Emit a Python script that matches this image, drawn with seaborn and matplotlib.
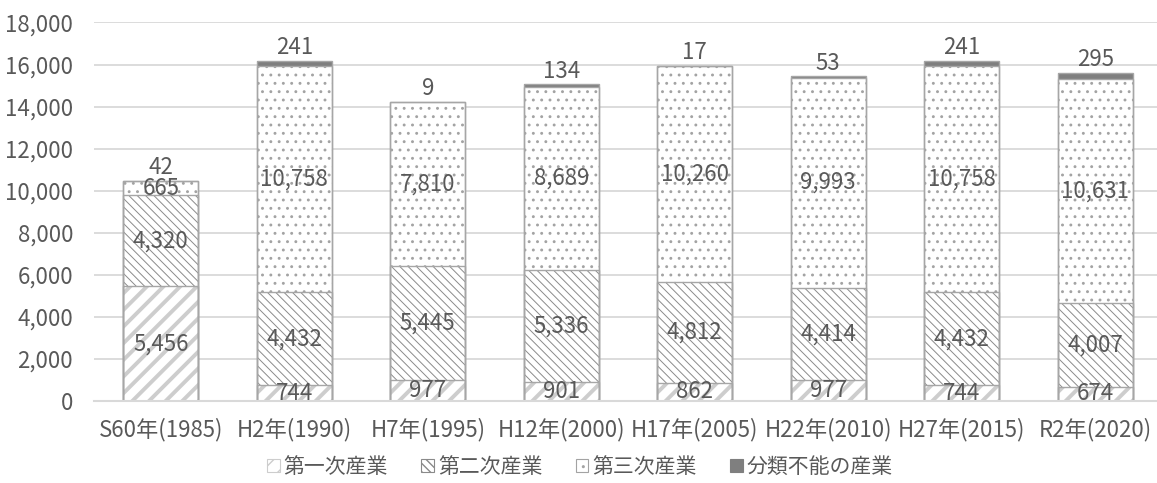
import pandas as pd
import seaborn as sns
import matplotlib
matplotlib.use('Agg')
import matplotlib.pyplot as plt
from matplotlib.patches import Patch

years = ['S60年(1985)', 'H2年(1990)', 'H7年(1995)', 'H12年(2000)',
         'H17年(2005)', 'H22年(2010)', 'H27年(2015)', 'R2年(2020)']
series_names = ['第一次産業', '第二次産業', '第三次産業', '分類不能の産業']
primary = [5456, 744, 977, 901, 862, 977, 744, 674]
secondary = [4320, 4432, 5445, 5336, 4812, 4414, 4432, 4007]
tertiary = [665, 10758, 7810, 8689, 10260, 9993, 10758, 10631]
unclassified = [42, 241, 9, 134, 17, 53, 241, 295]
yticks = list(range(0, 18001, 2000))

series = [primary, secondary, tertiary, unclassified]
# face, hatch, hatch colour, hatch linewidth
styles = [
    ('white', '//', '#cdcdcd', 2.8),
    ('white', '\\\\\\\\', '#8a8a8a', 0.7),
    ('white', '..', '#a3a3a3', 0.9),
    ('#7f7f7f', None, '#7f7f7f', 1.0),
]
text_color = '#595959'
edge_color = '#a6a6a6'
num_size = 16
cat_size = 16
legend_size = 15

# cumulative tops for stacking (draw from the top layer down)
df = pd.DataFrame({'year': years})
running = [0] * len(years)
for name, vals in zip(series_names, series):
    running = [r + v for r, v in zip(running, vals)]
    df[name] = running

sns.set_theme(style='white')
plt.rcParams['font.family'] = ['Noto Sans CJK JP', 'DejaVu Sans']

fig = plt.figure(figsize=(11.57, 4.83), dpi=100)
ax = fig.add_axes([94 / 1157, 82 / 483, (1162 - 94) / 1157, (401 - 22.5) / 483])
ax.set_axisbelow(True)

for k in range(3, -1, -1):
    face, hatch, hcol, hlw = styles[k]
    n_before = len(ax.patches)
    sns.barplot(data=df, x='year', y=series_names[k], order=years, color=face,
                saturation=1, width=0.56, errorbar=None, edgecolor=hcol,
                linewidth=0, ax=ax)
    for p in ax.patches[n_before:]:
        if hatch:
            p.set_hatch(hatch)
        if hasattr(p, 'set_hatch_linewidth'):
            p.set_hatch_linewidth(hlw)

# segment outlines
for k in range(3, -1, -1):
    sns.barplot(data=df, x='year', y=series_names[k], order=years, color=edge_color,
                saturation=1, width=0.56, errorbar=None, fill=False,
                linewidth=1.0, ax=ax)

# value labels
for i in range(len(years)):
    bottom = 0
    for k, vals in enumerate(series):
        v = vals[i]
        if k < 3:
            ax.text(i, bottom + v / 2, f'{v:,}', ha='center', va='center',
                    fontsize=num_size, color=text_color)
        else:
            ax.annotate(f'{v:,}', (i, bottom + v), xytext=(0, 1),
                        textcoords='offset points', ha='center', va='bottom',
                        fontsize=num_size, color=text_color)
        bottom += v

ax.set_ylim(0, 18000)
ax.set_xlim(-0.5, len(years) - 0.5)
ax.set_yticks(yticks)
ax.set_yticklabels([f'{t:,}' for t in yticks])
ax.yaxis.grid(True, color='#d9d9d9', linewidth=1.3)
ax.xaxis.grid(False)
for s in ['top', 'right', 'left']:
    ax.spines[s].set_visible(False)
ax.spines['bottom'].set_color('#d9d9d9')
ax.spines['bottom'].set_linewidth(1.5)
ax.tick_params(axis='y', length=0, pad=15, labelsize=num_size, labelcolor=text_color)
ax.tick_params(axis='x', length=0, pad=12, labelsize=cat_size, labelcolor=text_color)
ax.set_xlabel('')
ax.set_ylabel('')

handles = []
for (face, hatch, hcol, hlw), name in zip(styles, series_names):
    handles.append(Patch(facecolor=face, edgecolor=hcol if hatch else face,
                         hatch=hatch, linewidth=0.8, label=name))
fig.legend(handles=handles, loc='center', bbox_to_anchor=(580 / 1157, 1 - 467 / 483),
           ncol=4, frameon=False, fontsize=legend_size, handlelength=0.6,
           handleheight=0.6, handletextpad=0.2, columnspacing=1.6,
           labelcolor=text_color)

fig.savefig('out.png', dpi=100)
